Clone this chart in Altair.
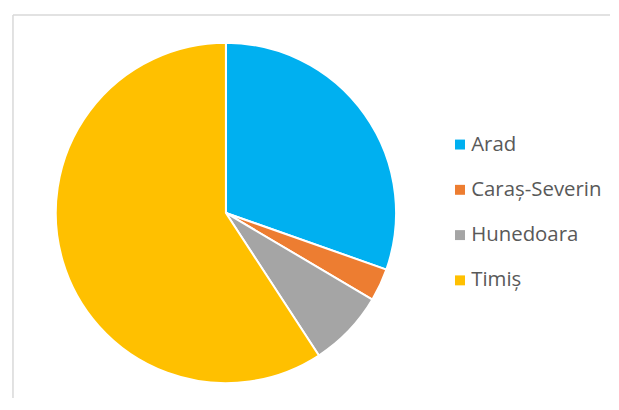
import altair as alt
import pandas as pd

counties = ["Arad", "Caraș-Severin", "Hunedoara", "Timiș"]
shares = [30.4, 3.1, 7.3, 59.2]
colors = ["#00B0F0", "#ED7D31", "#A5A5A5", "#FFC000"]

W, H = 600, 385

df = pd.DataFrame({"county": counties, "share": shares, "order": list(range(len(counties)))})
frame = pd.DataFrame({"k": [0]})

pie = (
    alt.Chart(df)
    .mark_arc(radius=171, stroke="white", strokeWidth=2, x=214, y=199)
    .encode(
        theta=alt.Theta("share:Q", stack=True),
        order=alt.Order("order:Q"),
        color=alt.Color(
            "county:N",
            sort=counties,
            scale=alt.Scale(domain=counties, range=colors),
            legend=alt.Legend(
                title=None,
                orient="none",
                legendX=439,
                legendY=120,
                symbolType="square",
                symbolSize=100,
                symbolStrokeWidth=0,
                labelFont="Open Sans",
                labelFontSize=20.5,
                labelColor="#595959",
                labelOffset=1,
                rowPadding=24.5,
            ),
        ),
    )
)

left_edge = alt.Chart(frame).mark_rule(color="#D9D9D9", strokeWidth=1.5).encode(
    x=alt.value(0), y=alt.value(0), y2=alt.value(H)
)
top_edge = alt.Chart(frame).mark_rule(color="#D9D9D9", strokeWidth=1.5).encode(
    y=alt.value(0), x=alt.value(0), x2=alt.value(W)
)

chart = (
    alt.layer(pie, left_edge, top_edge)
    .properties(
        width=W,
        height=H,
        padding={"left": 4, "top": 5, "right": 0, "bottom": 0},
        background="white",
    )
    .configure_view(stroke=None)
)

chart.save("out.html", embed_options={"renderer": "svg", "actions": False})
